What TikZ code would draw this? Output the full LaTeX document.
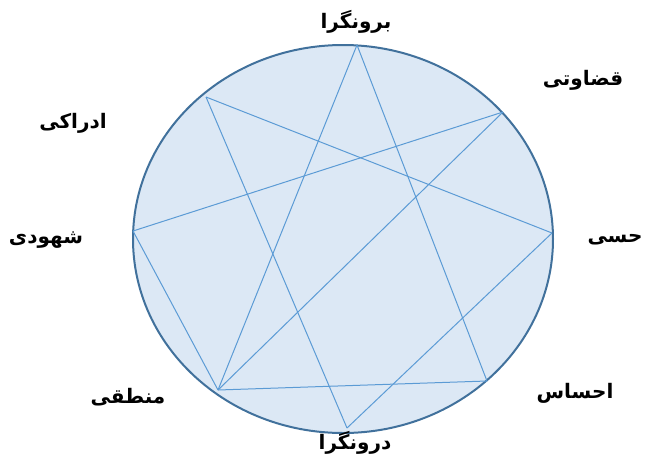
\documentclass[tikz,border=0pt]{standalone}
\usepackage{fontspec}
\usepackage{tikz}
\usetikzlibrary{positioning,calc}
\newfontfamily\arabicfont[Script=Arabic]{DejaVu Sans}
\TeXXeTstate=1
\definecolor{ringfill}{RGB}{220,232,245}
\definecolor{ringdraw}{RGB}{65,113,156}
\definecolor{chord}{RGB}{91,155,213}
\newcommand{\fa}[1]{{\arabicfont\bfseries\fontsize{20}{24}\selectfont\beginR #1\endR}}

\begin{document}
\begin{tikzpicture}[x=1pt,y=-1pt,
  chordline/.style={chord,line width=1pt},
  lbl/.style={inner sep=0pt,anchor=center}]
  \useasboundingbox (0,0) rectangle (646,459);
  % ring
  \draw[ringdraw,line width=2pt,fill=ringfill] (343,239) ellipse (210 and 194);
  % points on the ring
  \coordinate (top) at (357,45);
  \coordinate (ul) at (206,97);
  \coordinate (ur) at (503,112);
  \coordinate (rt) at (552,233);
  \coordinate (lr) at (487,381);
  \coordinate (bot) at (347,428);
  \coordinate (ll) at (218,390);
  \coordinate (lt) at (133,231);
  % chords
  \draw[chordline] (top) -- (ll);
  \draw[chordline] (top) -- (lr);
  \draw[chordline] (ul) -- (rt);
  \draw[chordline] (ul) -- (bot);
  \draw[chordline] (ur) -- (lt);
  \draw[chordline] (ur) -- (ll);
  \draw[chordline] (rt) -- (bot);
  \draw[chordline] (lt) -- (ll);
  \draw[chordline] (ll) -- (lr);
  % labels
  \node[lbl] (extro) at (356,22) {\fa{برونگرا}};
  \node[lbl] (judge) at (583,80) {\fa{قضاوتی}};
  \node[lbl] (perce) at (73,123) {\fa{ادراکی}};
  \node[lbl] (intui) at (46,240) {\fa{شهودی}};
  \node[lbl] (sense) at (615,240) {\fa{حسی}};
  \node[lbl] (think) at (128,397) {\fa{منطقی}};
  \node[lbl] (feel) at (575,393) {\fa{احساس}};
  \node[lbl] (intro) at (355,443) {\fa{درونگرا}};
\end{tikzpicture}
\end{document}
